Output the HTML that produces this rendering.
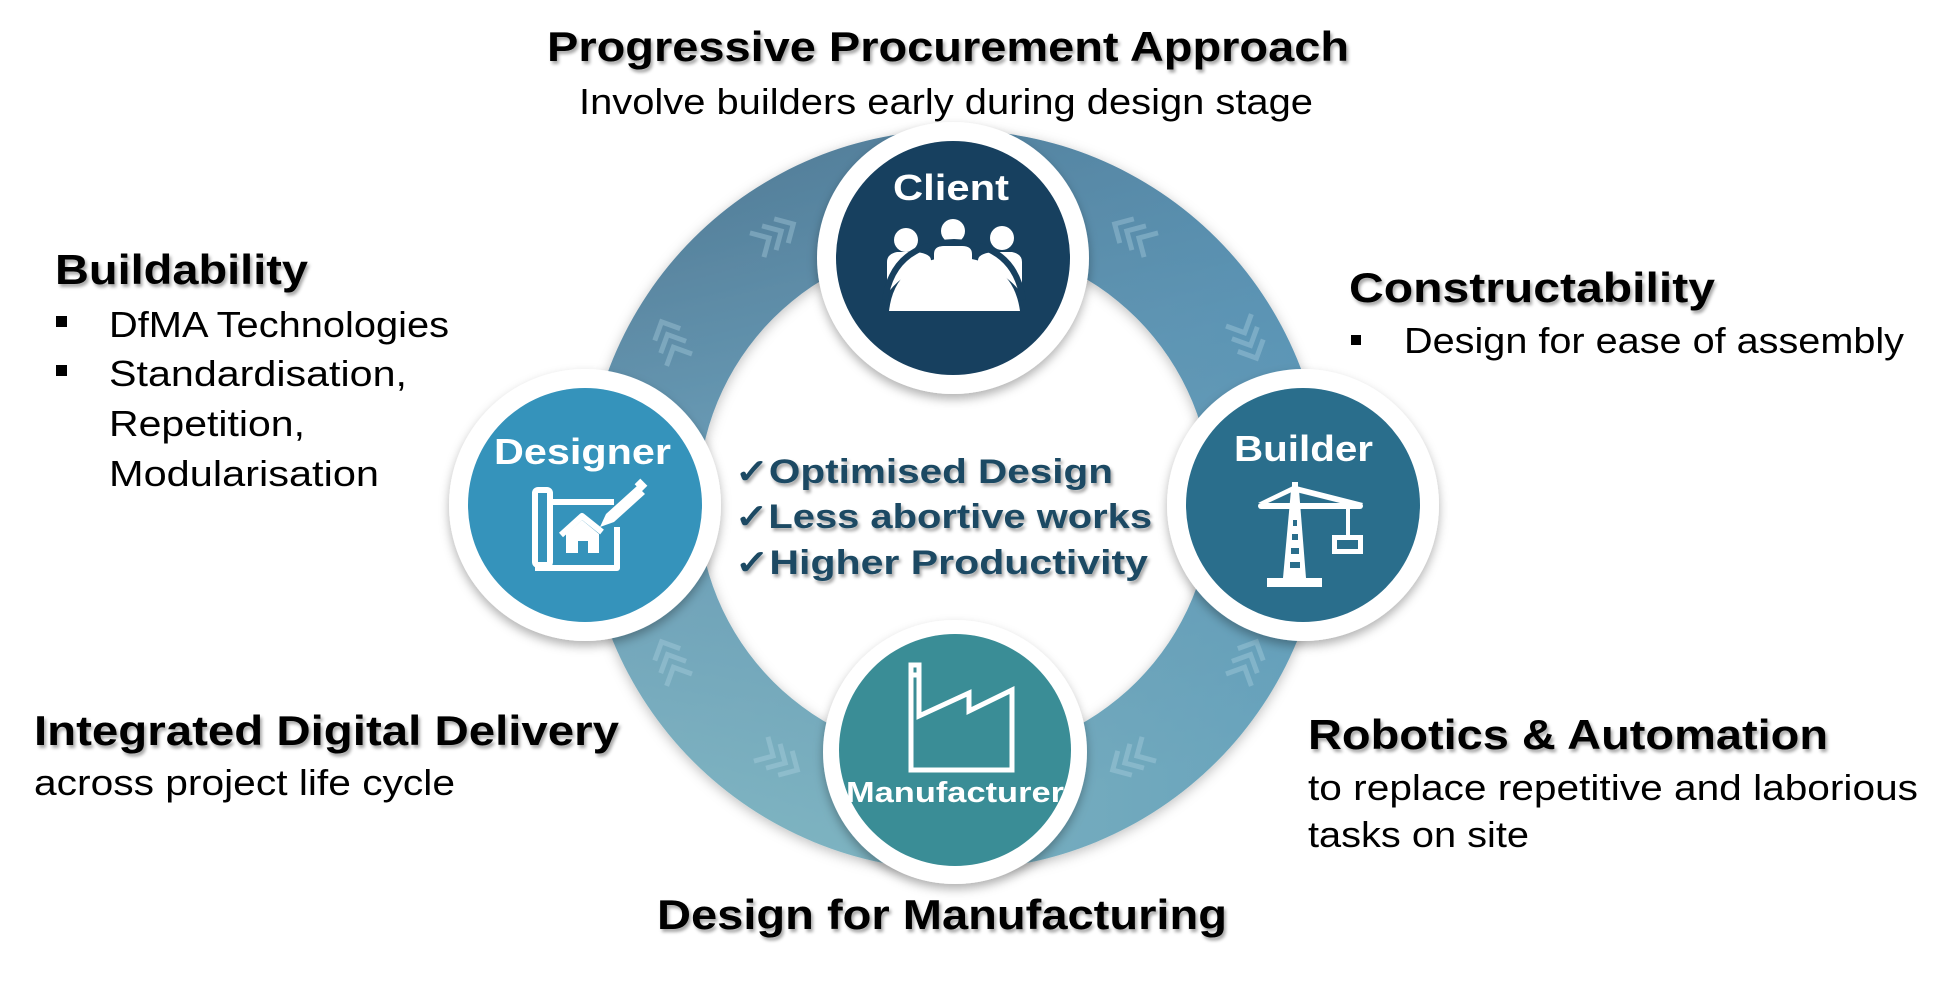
<!DOCTYPE html>
<html><head><meta charset="utf-8"><style>
html,body{margin:0;padding:0;background:#fff;}
svg{display:block;}
text{font-family:"Liberation Sans",sans-serif;}
</style></head><body>
<svg width="1953" height="986" viewBox="0 0 1953 986" xmlns="http://www.w3.org/2000/svg">
<defs>
  <filter id="ts" x="-5%" y="-20%" width="110%" height="150%">
    <feDropShadow dx="2" dy="3" stdDeviation="1.5" flood-color="#000" flood-opacity="0.35"/>
  </filter>
  <filter id="cs" x="-20%" y="-20%" width="140%" height="140%">
    <feDropShadow dx="0" dy="5" stdDeviation="5" flood-color="#000" flood-opacity="0.3"/>
  </filter>
  <filter id="rs" x="-10%" y="-10%" width="120%" height="120%">
    <feDropShadow dx="0" dy="3" stdDeviation="6" flood-color="#000" flood-opacity="0.25"/>
  </filter>
  <linearGradient id="rg" x1="0" y1="0" x2="0.25" y2="1">
    <stop offset="0" stop-color="#4d7590"/>
    <stop offset="0.45" stop-color="#6a9cb6"/>
    <stop offset="1" stop-color="#86bcc6"/>
  </linearGradient>
  <linearGradient id="rg2" x1="0" y1="0" x2="1" y2="0">
    <stop offset="0" stop-color="#5a8aa5" stop-opacity="0"/>
    <stop offset="1" stop-color="#4d8db4" stop-opacity="0.55"/>
  </linearGradient>
  <path id="chR" d="M-22,-14 L-8,0 L-22,14 M-8,-14 L6,0 L-8,14 M6,-14 L20,0 L6,14"/>
</defs>

<!-- ring -->
<g filter="url(#rs)">
<path fill-rule="evenodd" fill="url(#rg)" d="M585,500 a370,370 0 1,0 740,0 a370,370 0 1,0 -740,0 Z M698,500 a257,257 0 1,1 514,0 a257,257 0 1,1 -514,0 Z"/>
</g>
<path fill-rule="evenodd" fill="url(#rg2)" d="M585,500 a370,370 0 1,0 740,0 a370,370 0 1,0 -740,0 Z M698,500 a257,257 0 1,1 514,0 a257,257 0 1,1 -514,0 Z"/>

<!-- chevrons -->
<g fill="none" stroke="#b5d6e4" stroke-opacity="0.35" stroke-width="5">
  <use href="#chR" transform="translate(776,234) rotate(-30)"/>
  <use href="#chR" transform="translate(1132,234) rotate(210)"/>
  <use href="#chR" transform="translate(670,340) rotate(-115)"/>
  <use href="#chR" transform="translate(1248,340) rotate(65)"/>
  <use href="#chR" transform="translate(670,660) rotate(-115)"/>
  <use href="#chR" transform="translate(1248,660) rotate(-65)"/>
  <use href="#chR" transform="translate(780,760) rotate(30)"/>
  <use href="#chR" transform="translate(1130,760) rotate(150)"/>
</g>

<!-- nodes -->
<g filter="url(#cs)">
  <circle cx="953" cy="258" r="136" fill="#fff"/>
  <circle cx="585" cy="505" r="136" fill="#fff"/>
  <circle cx="1303" cy="505" r="136" fill="#fff"/>
  <circle cx="955" cy="752" r="132" fill="#fff"/>
</g>
<circle cx="953" cy="258" r="117" fill="#17405f"/>
<circle cx="585" cy="505" r="117" fill="#3593bb"/>
<circle cx="1303" cy="505" r="117" fill="#2a6e8c"/>
<circle cx="955" cy="750" r="116" fill="#3a8d96"/>

<!-- node labels -->
<g font-weight="bold" fill="#fff">
  <text x="893" y="200" font-size="36" textLength="116" lengthAdjust="spacingAndGlyphs">Client</text>
  <text x="494" y="464" font-size="36" textLength="177" lengthAdjust="spacingAndGlyphs">Designer</text>
  <text x="1234" y="461" font-size="36" textLength="139" lengthAdjust="spacingAndGlyphs">Builder</text>
  <text x="846" y="802" font-size="29" textLength="218" lengthAdjust="spacingAndGlyphs">Manufacturer</text>
</g>

<!-- client icon -->
<g fill="#fff">
  <circle cx="906" cy="240" r="12"/>
  <circle cx="953" cy="231" r="12"/>
  <circle cx="1002" cy="238" r="12"/>
  <path d="M887,262 q0,-8 10,-10 h20 q14,2 14,8 v4 q-28,8 -44,30 Z"/>
  <path d="M934,254 q0,-8 10,-8 h18 q10,0 10,8 v6 q-19,-3 -38,0 Z"/>
  <path d="M1022,262 q0,-8 -10,-10 h-20 q-14,2 -14,8 v4 q28,8 44,30 Z"/>
  <path d="M889,311 q6,-52 65,-54 q59,2 66,54 Z"/>
</g>
<path d="M885,300 q8,-56 69,-58 q61,2 69,58" fill="none" stroke="#17405f" stroke-width="6"/>

<!-- designer icon -->
<g fill="none" stroke="#fff" stroke-width="6" stroke-linejoin="round">
  <rect x="535" y="490" width="15" height="75" rx="3"/>
  <path d="M550,502 H614 M617,527 V568 H535"/>
  <path d="M561,535 L582,516 L602,532"/>
</g>
<g fill="#fff">
  <path d="M566,534 L582,520 L599,534 V553 H588 V541 H578 V553 H566 Z"/>
  <path d="M600,527 L606,514 L637,486 L645,494 L614,522 Z"/>
  <rect x="636" y="481" width="10" height="8" transform="rotate(45 641 485)"/>
</g>

<!-- crane icon -->
<g fill="#fff">
  <path d="M1291,490 L1299,490 L1306,578 L1283,578 Z"/>
  <rect x="1267" y="578" width="55" height="9"/>
  <rect x="1292" y="482" width="6" height="10"/>
  <path d="M1258,503 L1293,486 L1296,490 L1268,503 Z"/>
  <path d="M1296,486 L1363,503 L1360,508 L1296,492 Z"/>
  <rect x="1258" y="503" width="105" height="6" rx="3"/>
  <rect x="1346" y="508" width="4" height="27"/>
  <path d="M1332,535 h31 v19 h-31 Z M1337,540 v9 h21 v-9 Z" fill-rule="evenodd"/>
</g>
<g fill="#2a6e8c">
  <rect x="1293" y="520" width="4" height="6"/>
  <rect x="1292" y="534" width="6" height="6"/>
  <rect x="1291" y="548" width="8" height="6"/>
  <rect x="1290" y="562" width="10" height="6"/>
</g>

<!-- factory icon -->
<g fill="none" stroke="#fff" stroke-width="5" stroke-linejoin="miter">
  <path d="M911,770 V665 H919 V716 L969,693 V711 L1012,690 V770 Z"/>
  <path d="M911,675 H919"/>
</g>

<!-- center text -->
<g font-weight="bold" fill="#1b4a64" font-size="34" filter="url(#ts)">
  <text x="735" y="483" textLength="378" lengthAdjust="spacingAndGlyphs">✓Optimised Design</text>
  <text x="735" y="528" textLength="417" lengthAdjust="spacingAndGlyphs">✓Less abortive works</text>
  <text x="735" y="574" textLength="413" lengthAdjust="spacingAndGlyphs">✓Higher Productivity</text>
</g>

<!-- headings -->
<g font-weight="bold" fill="#000" filter="url(#ts)">
  <text x="547" y="61" font-size="42" textLength="802" lengthAdjust="spacingAndGlyphs">Progressive Procurement Approach</text>
  <text x="55" y="284" font-size="42" textLength="253" lengthAdjust="spacingAndGlyphs">Buildability</text>
  <text x="1349" y="302" font-size="42" textLength="366" lengthAdjust="spacingAndGlyphs">Constructability</text>
  <text x="34" y="745" font-size="42" textLength="585" lengthAdjust="spacingAndGlyphs">Integrated Digital Delivery</text>
  <text x="1308" y="749" font-size="42" textLength="520" lengthAdjust="spacingAndGlyphs">Robotics &amp; Automation</text>
  <text x="657" y="929" font-size="42" textLength="570" lengthAdjust="spacingAndGlyphs">Design for Manufacturing</text>
</g>

<!-- body text -->
<g fill="#000" font-size="36">
  <text x="579" y="114" textLength="734" lengthAdjust="spacingAndGlyphs">Involve builders early during design stage</text>
  <rect x="56" y="316" width="11" height="11"/>
  <rect x="56" y="365" width="11" height="11"/>
  <text x="109" y="337" textLength="340" lengthAdjust="spacingAndGlyphs">DfMA Technologies</text>
  <text x="109" y="386" textLength="298" lengthAdjust="spacingAndGlyphs">Standardisation,</text>
  <text x="109" y="436" textLength="196" lengthAdjust="spacingAndGlyphs">Repetition,</text>
  <text x="109" y="486" textLength="270" lengthAdjust="spacingAndGlyphs">Modularisation</text>
  <rect x="1351" y="335" width="10" height="10"/>
  <text x="1404" y="353" textLength="500" lengthAdjust="spacingAndGlyphs">Design for ease of assembly</text>
  <text x="34" y="795" textLength="421" lengthAdjust="spacingAndGlyphs">across project life cycle</text>
  <text x="1308" y="800" textLength="610" lengthAdjust="spacingAndGlyphs">to replace repetitive and laborious</text>
  <text x="1308" y="847" textLength="221" lengthAdjust="spacingAndGlyphs">tasks on site</text>
</g>
</svg>
</body></html>
